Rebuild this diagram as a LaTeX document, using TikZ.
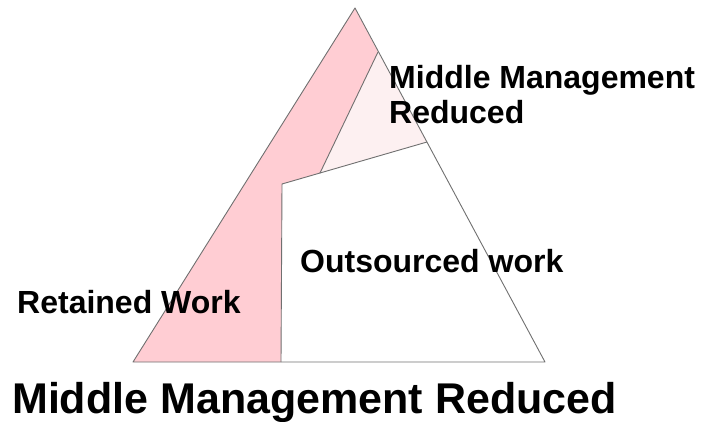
\documentclass[tikz,border=0pt]{standalone}
\usepackage{fontspec}
\setmainfont{Liberation Sans}
\definecolor{retpink}{HTML}{FFCDD3}
\definecolor{mmpink}{HTML}{FDF0F1}
\definecolor{edge}{HTML}{707070}
\begin{document}
\begin{tikzpicture}[x=1pt,y=-1pt,
  region/.style={draw=edge,line width=0.9pt,line join=round},
  lbl/.style={font=\fontsize{32}{35}\selectfont\bfseries,anchor=base west,inner sep=0pt,align=left},
  title/.style={font=\fontsize{43}{46}\selectfont\bfseries,anchor=base west,inner sep=0pt}]
\useasboundingbox (0,0) rectangle (702,422);
% key points
\coordinate (apex) at (355,8);
\coordinate (bl) at (133,362);
\coordinate (br) at (545,362);
\coordinate (p1) at (378,52);
\coordinate (p2) at (320,173);
\coordinate (p3) at (427,142);
\coordinate (p4) at (282,184);
\coordinate (p5) at (281,362);
% regions
\fill[white] (p4) -- (p2) -- (p3) -- (br) -- (p5) -- cycle;
\fill[mmpink] (p1) -- (p3) -- (p2) -- cycle;
\fill[retpink] (apex) -- (p1) -- (p2) -- (p4) -- (p5) -- (bl) -- cycle;
\draw[region] (apex) -- (br) -- (bl) -- cycle;
\draw[region] (p1) -- (p2) -- (p4) -- (p5);
\draw[region] (p2) -- (p3);
% labels
\node[lbl] (mm) at (389,124) {Middle Management\\Reduced};
\node[lbl] (out) at (300,273) {Outsourced work};
\node[lbl] (ret) at (17,314) {Retained Work};
\node[title] (ttl) at (12,413) {Middle Management Reduced};
\end{tikzpicture}
\end{document}
